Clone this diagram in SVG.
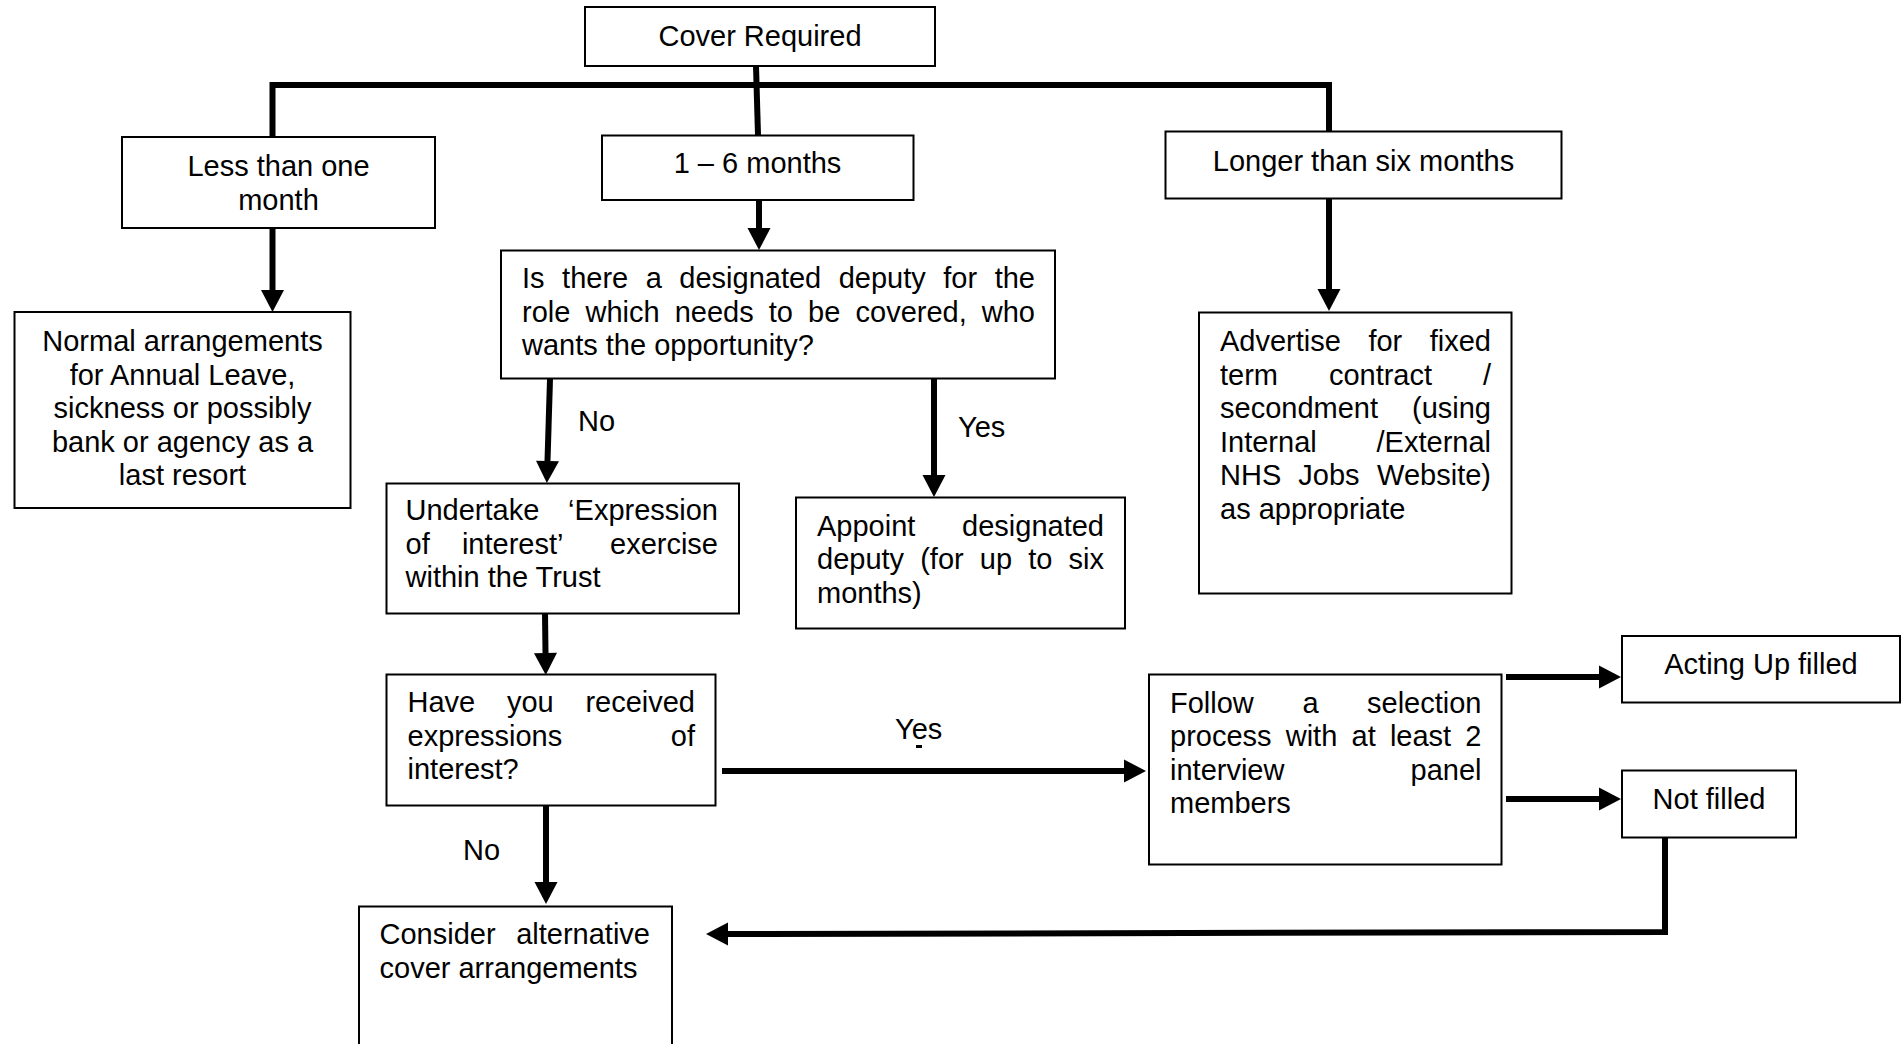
<svg xmlns="http://www.w3.org/2000/svg" width="1903" height="1044" viewBox="0 0 1903 1044">
<style>
.box{fill:#fff;stroke:#000;stroke-width:2}
.t{font-family:"Liberation Sans",Arial,sans-serif;font-size:29px;fill:#000}
.c{text-anchor:middle}
.e{text-anchor:end}
.ln{fill:none;stroke:#000;stroke-width:6;stroke-linejoin:miter}
</style>
<defs>
<marker id="ah" markerUnits="userSpaceOnUse" markerWidth="24" markerHeight="24" refX="0" refY="11.5" orient="auto" overflow="visible">
<path d="M0,0 L22,11.5 L0,23 Z" fill="#000"/>
</marker>
</defs>
<rect width="1903" height="1044" fill="#fff"/>

<g id="connectors">
<path class="ln" d="M756,66 L758,135"/>
<path class="ln" d="M272.5,137 L272.5,85 L1329,85 L1329,131"/>
<path class="ln" d="M272.5,228 L272.5,290" marker-end="url(#ah)"/>
<path class="ln" d="M759,200 L759,228" marker-end="url(#ah)"/>
<path class="ln" d="M1329,198 L1329,289" marker-end="url(#ah)"/>
<path class="ln" d="M550,379 L547.5,461" marker-end="url(#ah)"/>
<path class="ln" d="M934,379 L934,475" marker-end="url(#ah)"/>
<path class="ln" d="M545,613 L545.5,653" marker-end="url(#ah)"/>
<path class="ln" d="M546,806 L546,882" marker-end="url(#ah)"/>
<path class="ln" d="M722,771 L1124,771" marker-end="url(#ah)"/>
<path class="ln" d="M1506,677 L1599,677" marker-end="url(#ah)"/>
<path class="ln" d="M1506,799 L1599,799" marker-end="url(#ah)"/>
<path class="ln" d="M1665,838 L1665,932 L728,934" marker-end="url(#ah)"/>
<text class="t" x="578" y="431">No</text>
<text class="t" x="958" y="437">Yes</text>
<text class="t" x="895" y="739">Yes</text>
<rect x="916" y="745" width="6" height="3" fill="#000"/>
<text class="t" x="463" y="860">No</text>
</g>

<g id="cover-required">
<rect class="box" x="585" y="7" width="350" height="59"/>
<text class="t c" x="760" y="46">Cover Required</text>
</g>

<g id="less-than-one-month">
<rect class="box" x="122" y="137" width="313" height="91"/>
<text class="t c" x="278.5" y="176">Less than one</text>
<text class="t c" x="278.5" y="209.5">month</text>
</g>

<g id="one-to-six-months">
<rect class="box" x="602" y="135.5" width="311.5" height="64.5"/>
<text class="t c" x="757.5" y="173">1 – 6 months</text>
</g>

<g id="longer-than-six-months">
<rect class="box" x="1165.5" y="131.5" width="396" height="67"/>
<text class="t c" x="1363.5" y="171">Longer than six months</text>
</g>

<g id="normal-arrangements">
<rect class="box" x="14.5" y="312" width="336" height="196"/>
<text class="t c" x="182.5" y="351">Normal arrangements</text>
<text class="t c" x="182.5" y="384.5">for Annual Leave,</text>
<text class="t c" x="182.5" y="418">sickness or possibly</text>
<text class="t c" x="182.5" y="451.5">bank or agency as a</text>
<text class="t c" x="182.5" y="485">last resort</text>
</g>

<g id="designated-deputy">
<rect class="box" x="501" y="250.5" width="554" height="128"/>
<text class="t" y="288"><tspan x="522">Is</tspan><tspan x="562.1">there</tspan><tspan x="645.7">a</tspan><tspan x="679.3">designated</tspan><tspan x="838.7">deputy</tspan><tspan x="943.3">for</tspan><tspan x="994.7">the</tspan></text>
<text class="t" y="321.5"><tspan x="522">role</tspan><tspan x="585.5">which</tspan><tspan x="674.7">needs</tspan><tspan x="768.8">to</tspan><tspan x="808.1">be</tspan><tspan x="855.5">covered,</tspan><tspan x="981.8">who</tspan></text>
<text class="t" x="522" y="355">wants the opportunity?</text>
</g>

<g id="advertise">
<rect class="box" x="1199" y="312.5" width="312.5" height="281"/>
<text class="t" y="351"><tspan x="1220">Advertise</tspan><tspan x="1368.4">for</tspan></text>
<text class="t e" x="1491" y="351">fixed</text>
<text class="t" y="384.5"><tspan x="1220">term</tspan><tspan x="1328.9">contract</tspan></text>
<text class="t e" x="1491" y="384.5">/</text>
<text class="t" x="1220" y="418">secondment</text>
<text class="t e" x="1491" y="418">(using</text>
<text class="t" x="1220" y="451.5">Internal</text>
<text class="t e" x="1491" y="451.5">/External</text>
<text class="t" y="485"><tspan x="1220">NHS</tspan><tspan x="1298.3">Jobs</tspan></text>
<text class="t e" x="1491" y="485">Website)</text>
<text class="t" x="1220" y="518.5">as appropriate</text>
</g>

<g id="expression-of-interest">
<rect class="box" x="386.5" y="483.5" width="352.5" height="130"/>
<text class="t" x="405.5" y="520">Undertake</text>
<text class="t e" x="718" y="520">‘Expression</text>
<text class="t" y="553.5"><tspan x="405.5">of</tspan><tspan x="461.9">interest’</tspan></text>
<text class="t e" x="718" y="553.5">exercise</text>
<text class="t" x="405.5" y="587">within the Trust</text>
</g>

<g id="appoint-deputy">
<rect class="box" x="796" y="497.5" width="329" height="131"/>
<text class="t" x="817" y="535.5">Appoint</text>
<text class="t e" x="1104" y="535.5">designated</text>
<text class="t" y="569"><tspan x="817">deputy</tspan><tspan x="920.2">(for</tspan><tspan x="979.8">up</tspan><tspan x="1028.2">to</tspan></text>
<text class="t e" x="1104" y="569">six</text>
<text class="t" x="817" y="602.5">months)</text>
</g>

<g id="received-expressions">
<rect class="box" x="386.5" y="674.5" width="329" height="131"/>
<text class="t" y="712"><tspan x="407.5">Have</tspan><tspan x="506.9">you</tspan></text>
<text class="t e" x="695" y="712">received</text>
<text class="t" x="407.5" y="745.5">expressions</text>
<text class="t e" x="695" y="745.5">of</text>
<text class="t" x="407.5" y="779">interest?</text>
</g>

<g id="selection-process">
<rect class="box" x="1149" y="674.5" width="352.5" height="190"/>
<text class="t" y="712.5"><tspan x="1170">Follow</tspan><tspan x="1302.4">a</tspan></text>
<text class="t e" x="1481.5" y="712.5">selection</text>
<text class="t" y="746"><tspan x="1170">process</tspan><tspan x="1285.7">with</tspan><tspan x="1351.5">at</tspan><tspan x="1389.9">least</tspan></text>
<text class="t e" x="1481.5" y="746">2</text>
<text class="t" x="1170" y="779.5">interview</text>
<text class="t e" x="1481.5" y="779.5">panel</text>
<text class="t" x="1170" y="813">members</text>
</g>

<g id="acting-up-filled">
<rect class="box" x="1622" y="636" width="278" height="66.5"/>
<text class="t c" x="1761" y="674">Acting Up filled</text>
</g>

<g id="not-filled">
<rect class="box" x="1622" y="770.5" width="174" height="67"/>
<text class="t c" x="1709" y="809">Not filled</text>
</g>

<g id="consider-alternative">
<rect class="box" x="359" y="906.5" width="313" height="160"/>
<text class="t" x="379.5" y="943.5">Consider</text>
<text class="t e" x="650" y="943.5">alternative</text>
<text class="t" x="379.5" y="977.5">cover arrangements</text>
</g>
</svg>
